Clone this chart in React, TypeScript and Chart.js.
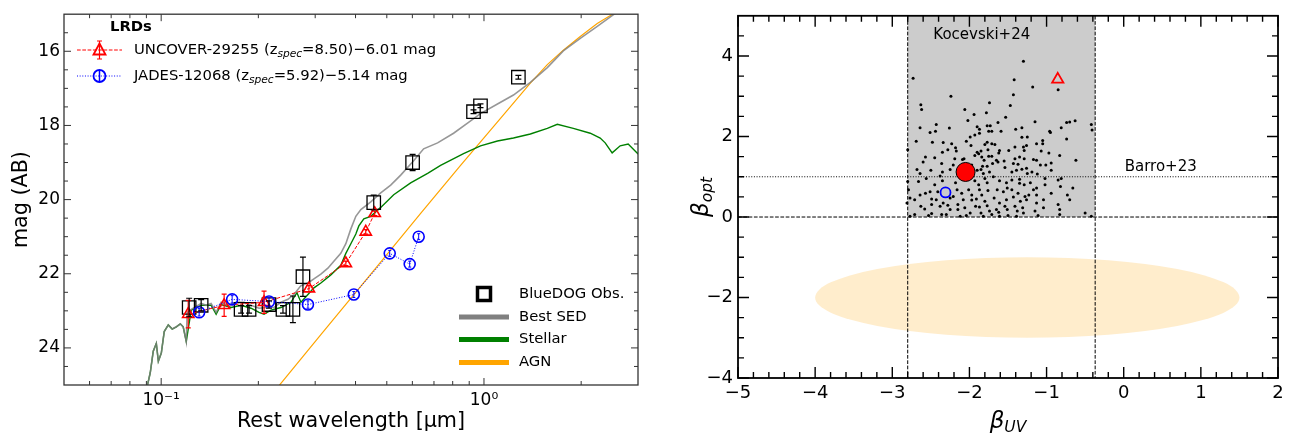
import React, { useEffect, useRef } from 'react';
import { Chart, registerables } from 'chart.js';

Chart.register(...registerables);

const FONT = "'DejaVu Sans', 'Liberation Sans', sans-serif";

// ---------------- Left panel: rest-frame SED ----------------
const BEST_SED_WAVE = [0.0899, 0.0925, 0.0945, 0.0966, 0.098, 0.1001, 0.1022, 0.1052, 0.1082, 0.1114, 0.1146, 0.117, 0.1196, 0.1204, 0.1239, 0.1284, 0.133, 0.1378, 0.1428, 0.148, 0.1534, 0.1612, 0.1706, 0.1806, 0.1898, 0.201, 0.2113, 0.2237, 0.235, 0.247, 0.2578, 0.271, 0.2849, 0.2973, 0.3124, 0.3284, 0.3427, 0.3601, 0.3733, 0.3869, 0.4009, 0.4155, 0.446, 0.4788, 0.5141, 0.5521, 0.6055, 0.6502, 0.7183, 0.805, 0.8892, 0.9754, 1.101, 1.234, 1.392, 1.571, 1.761, 1.987, 2.243, 2.513, 2.737];
const BEST_SED_MAG = [25.15, 24.67, 24.09, 23.88, 24.36, 24.14, 23.56, 23.38, 23.49, 23.43, 23.35, 23.43, 23.83, 23.04, 22.96, 22.88, 22.8, 22.85, 22.8, 23.04, 22.77, 22.85, 22.77, 22.77, 22.85, 22.93, 22.91, 22.91, 22.77, 22.69, 22.56, 22.32, 22.25, 22.14, 22.01, 21.85, 21.66, 21.45, 21.19, 20.79, 20.45, 20.27, 20.06, 19.82, 19.61, 19.34, 18.95, 18.63, 18.47, 18.21, 17.94, 17.68, 17.42, 17.18, 16.84, 16.44, 15.99, 15.65, 15.33, 15.02, 14.78];

const STELLAR_WAVE = [0.0899, 0.0925, 0.0945, 0.0966, 0.098, 0.1001, 0.1022, 0.1052, 0.1082, 0.1114, 0.1146, 0.117, 0.1196, 0.1239, 0.133, 0.1428, 0.148, 0.1534, 0.1647, 0.1768, 0.1898, 0.201, 0.2083, 0.2189, 0.235, 0.2523, 0.2634, 0.271, 0.2849, 0.2973, 0.3124, 0.3354, 0.3601, 0.3733, 0.3869, 0.4009, 0.4096, 0.4244, 0.446, 0.4788, 0.5252, 0.5927, 0.669, 0.7338, 0.8643, 0.9754, 1.101, 1.234, 1.392, 1.571, 1.687, 1.891, 2.134, 2.291, 2.374, 2.495, 2.642, 2.797, 2.981, 3.045];
const STELLAR_MAG = [25.15, 24.67, 24.09, 23.88, 24.36, 24.14, 23.56, 23.38, 23.49, 23.43, 23.35, 23.43, 23.83, 22.98, 22.85, 22.85, 23.09, 22.83, 22.91, 22.85, 22.93, 23.04, 23.09, 22.98, 22.91, 22.77, 22.51, 22.77, 22.56, 22.38, 22.25, 22.03, 21.77, 21.45, 21.19, 20.93, 20.71, 20.52, 20.45, 20.21, 19.87, 19.55, 19.29, 19.08, 18.76, 18.55, 18.42, 18.34, 18.23, 18.08, 17.97, 18.08, 18.21, 18.34, 18.47, 18.74, 18.55, 18.5, 18.74, 18.82];

const AGN_WAVE = [0.2189, 0.2317, 0.3124, 0.446, 0.6365, 0.8462, 1.125, 1.392, 1.571, 1.761, 1.987, 2.243, 2.513, 2.737];
const AGN_MAG = [25.28, 25.02, 23.64, 22.01, 20.37, 19.08, 17.81, 16.86, 16.36, 15.97, 15.6, 15.25, 14.99, 14.78];

const BLUEDOG_WAVE = [0.1221, 0.133, 0.1768, 0.1872, 0.2158, 0.2384, 0.2559, 0.2749, 0.4555, 0.601, 0.928, 0.9754, 1.278];
const BLUEDOG_MAG = [22.91, 22.85, 22.96, 22.96, 22.83, 22.96, 22.96, 22.08, 20.08, 19.0, 17.63, 17.47, 16.7];
const BLUEDOG_ERR = [0.25, 0.15, 0.1, 0.1, 0.1, 0.1, 0.36, 0.53, 0.2, 0.22, 0.05, 0.05, 0.05];

const UNCOVER_WAVE = [0.1213, 0.1567, 0.2083, 0.2869, 0.3733, 0.4303, 0.4587];
const UNCOVER_MAG = [23.09, 22.85, 22.77, 22.4, 21.72, 20.87, 20.37];
const UNCOVER_ERR = [0.37, 0.3, 0.3, 0.08, 0.06, 0.06, 0.06];

const JADES_WAVE = [0.1311, 0.1659, 0.2158, 0.2849, 0.3952, 0.5105, 0.5887, 0.6276];
const JADES_MAG = [23.04, 22.69, 22.75, 22.83, 22.56, 21.45, 21.74, 21.0];
const JADES_ERR = [0.1, 0.1, 0.1, 0.1, 0.08, 0.08, 0.08, 0.08];

const LEFT_X_MAJOR = [0.1, 1];
const LEFT_X_LABELS = ['10\u207B\u00B9', '10\u2070'];
const LEFT_X_MINOR = [0.06, 0.07, 0.08, 0.09, 0.2, 0.3, 0.4, 0.5, 0.6, 0.7, 0.8, 0.9, 2];
const LEFT_Y_MAJOR = [16, 18, 20, 22, 24];
const LEFT_Y_MINOR = [15.5, 16.5, 17, 17.5, 18.5, 19, 19.5, 20.5, 21, 21.5, 22.5, 23, 23.5, 24.5];

const LRD_TITLE = 'LRDs';
const UNCOVER_LABEL = [{ t: 'UNCOVER-29255 (z' }, { t: 'spec', sub: true }, { t: '=8.50)\u22126.01 mag' }];
const JADES_LABEL = [{ t: 'JADES-12068 (z' }, { t: 'spec', sub: true }, { t: '=5.92)\u22125.14 mag' }];
const SED_LEGEND = ['BlueDOG Obs.', 'Best SED', 'Stellar', 'AGN'];

// ---------------- Right panel: beta_UV vs beta_opt ----------------
const KOCEVSKI_24: number[][] = [
  [-1.30, 3.87], [-2.73, 3.45], [-1.42, 3.41], [-1.18, 3.23], [-0.85, 3.16], [-2.24, 3.00], [-1.43, 3.04],
  [-2.63, 2.79], [-2.62, 2.67], [-1.74, 2.84], [-1.47, 2.77], [-2.06, 2.67], [-1.78, 2.59], [-1.94, 2.55],
  [-1.53, 2.48], [-2.02, 2.40], [-1.63, 2.35], [-1.15, 2.37], [-0.63, 2.39], [-0.70, 2.36], [-0.74, 2.35],
  [-0.42, 2.30], [-2.43, 2.30], [-2.64, 2.22], [-2.26, 2.21], [-1.90, 2.24], [-1.77, 2.27], [-1.73, 2.27],
  [-1.87, 2.18], [-1.75, 2.13], [-1.71, 2.13], [-1.59, 2.13], [-1.40, 2.18], [-1.32, 2.22], [-0.96, 2.13],
  [-0.81, 2.22], [-2.51, 2.10], [-2.44, 2.13], [-1.93, 2.04], [-1.87, 2.08], [-1.25, 1.99], [-1.32, 1.98],
  [-0.95, 2.10], [-0.41, 2.16], [-2.69, 1.88], [-2.48, 1.86], [-2.34, 1.85], [-1.99, 1.99], [-2.04, 1.88],
  [-1.77, 1.86], [-1.71, 1.82], [-1.67, 1.80], [-1.80, 1.80], [-1.98, 1.78], [-1.13, 1.82], [-1.05, 1.90],
  [-1.05, 1.82], [-0.74, 1.94], [-2.80, 1.67], [-2.35, 1.61], [-2.23, 1.82], [-2.18, 1.72], [-2.28, 1.67],
  [-2.17, 1.64], [-1.90, 1.61], [-1.85, 1.64], [-1.88, 1.57], [-1.76, 1.67], [-1.61, 1.65], [-1.62, 1.59],
  [-1.49, 1.65], [-1.41, 1.74], [-1.30, 1.74], [-1.29, 1.65], [-1.26, 1.78], [-1.07, 1.64], [-0.97, 1.59],
  [-0.83, 1.53], [-0.62, 1.41], [-2.57, 1.49], [-2.45, 1.47], [-2.60, 1.37], [-2.19, 1.45], [-2.09, 1.43],
  [-2.07, 1.45], [-1.93, 1.53], [-1.84, 1.49], [-1.81, 1.41], [-1.75, 1.51], [-1.71, 1.51], [-1.65, 1.41],
  [-1.41, 1.45], [-1.35, 1.49], [-1.29, 1.45], [-1.17, 1.43], [-1.13, 1.41], [-1.01, 1.29], [-0.94, 1.34],
  [-2.36, 1.33], [-2.21, 1.29], [-1.97, 1.29], [-1.83, 1.26], [-1.77, 1.26], [-1.70, 1.33], [-1.63, 1.37],
  [-1.55, 1.39], [-1.43, 1.33], [-1.37, 1.31], [-1.26, 1.21], [-2.68, 1.18], [-2.64, 1.08], [-2.50, 1.16],
  [-2.35, 1.12], [-2.25, 1.18], [-1.90, 1.16], [-1.85, 1.18], [-1.82, 1.08], [-1.74, 1.12], [-1.54, 1.23],
  [-1.45, 1.12], [-1.39, 1.16], [-1.32, 1.19], [-1.25, 1.08], [-1.19, 1.12], [-1.12, 1.07], [-1.08, 1.29],
  [-1.02, 0.96], [-0.94, 1.16], [-0.85, 0.92], [-0.81, 0.96], [-2.80, 0.88], [-2.66, 0.88], [-2.56, 0.96],
  [-2.38, 1.02], [-2.35, 0.90], [-2.45, 0.80], [-2.18, 0.85], [-1.93, 0.90], [-1.88, 0.80], [-1.80, 0.96],
  [-1.77, 0.85], [-1.69, 1.00], [-1.61, 0.90], [-1.52, 0.85], [-1.45, 0.92], [-1.35, 0.94], [-1.35, 0.84],
  [-1.29, 0.80], [-1.21, 0.85], [-1.13, 0.72], [-1.02, 0.80], [-0.82, 0.76], [-0.66, 0.72], [-2.79, 0.68],
  [-2.64, 0.55], [-2.57, 0.59], [-2.51, 0.63], [-2.41, 0.63], [-2.16, 0.68], [-2.10, 0.59], [-2.01, 0.68],
  [-1.97, 0.55], [-1.87, 0.68], [-1.84, 0.55], [-1.76, 0.66], [-1.64, 0.68], [-1.56, 0.63], [-1.51, 0.72],
  [-1.45, 0.68], [-1.37, 0.59], [-1.28, 0.51], [-1.23, 0.55], [-1.17, 0.68], [-1.13, 0.55], [-1.04, 0.43],
  [-0.94, 0.59], [-0.73, 0.55], [-0.70, 0.43], [-2.77, 0.47], [-2.71, 0.43], [-2.49, 0.45], [-2.43, 0.43],
  [-2.34, 0.35], [-2.25, 0.47], [-2.21, 0.51], [-2.08, 0.43], [-1.97, 0.42], [-1.91, 0.45], [-1.80, 0.39],
  [-1.68, 0.47], [-1.61, 0.35], [-1.52, 0.43], [-1.43, 0.50], [-1.34, 0.39], [-1.26, 0.43], [-1.13, 0.35],
  [-2.81, 0.35], [-2.63, 0.27], [-2.49, 0.31], [-2.38, 0.27], [-2.28, 0.29], [-2.15, 0.31], [-2.06, 0.23],
  [-1.92, 0.27], [-1.87, 0.25], [-1.77, 0.28], [-1.65, 0.19], [-1.54, 0.27], [-1.41, 0.27], [-1.31, 0.23],
  [-1.15, 0.15], [-1.04, 0.23], [-0.85, 0.31], [-0.83, 0.19], [-2.58, 0.20], [-2.25, 0.19], [-2.15, 0.19],
  [-1.99, 0.10], [-1.85, 0.10], [-1.74, 0.15], [-1.62, 0.12], [-1.51, 0.19], [-1.38, 0.15], [-1.30, 0.10],
  [-0.83, 0.06], [-0.50, 0.10], [-2.71, 0.06], [-2.49, 0.09], [-2.36, 0.06], [-2.30, 0.06], [-2.12, 0.02],
  [-2.04, 0.04], [-1.82, 0.02], [-1.71, 0.06], [-1.61, 0.02], [-1.50, 0.04], [-1.39, 0.02], [-1.11, 0.04],
  [-0.42, 0.02], [-2.77, 0.02], [-2.53, 0.04]
];
const BLUEDOG_BETA = [[-2.05, 1.12]];
const JADES_BETA = [[-2.31, 0.61]];
const UNCOVER_BETA = [[-0.855, 3.42]];

const KOCEVSKI_BOX = { uvMin: -2.8, uvMax: -0.37, optMin: 0 };
const BARRO_LIMIT = 1;
const AGN_ELLIPSE = { cx: -1.25, cy: -2, rx: 2.75, ry: 1.0 };
const KOCEVSKI_LABEL = { text: 'Kocevski+24', x: -1.84, y: 4.52 };
const BARRO_LABEL = { text: 'Barro+23', x: 0.48, y: 1.25 };

const RIGHT_X_MAJOR = [-5, -4, -3, -2, -1, 0, 1, 2];
const RIGHT_X_MINOR = [-4.8, -4.6, -4.4, -4.2, -3.8, -3.6, -3.4, -3.2, -2.8, -2.6, -2.4, -2.2, -1.8, -1.6, -1.4, -1.2, -0.8, -0.6, -0.4, -0.2, 0.2, 0.4, 0.6, 0.8, 1.2, 1.4, 1.6, 1.8];
const RIGHT_Y_MAJOR = [-4, -2, 0, 2, 4];
const RIGHT_Y_MINOR = [-3.5, -3, -2.5, -1.5, -1, -0.5, 0.5, 1, 1.5, 2.5, 3, 3.5, 4.5];

// ---------------- helpers ----------------
const pairs = (xs: number[], ys: number[]) => xs.map((v, i) => ({ x: v, y: ys[i] }));
const pts = (arr: number[][]) => arr.map((p) => ({ x: p[0], y: p[1] }));
const minusFmt = (v: number) => (v < 0 ? '\u2212' + Math.abs(v) : String(v));

const frameTicks = {
  id: 'frameTicks',
  afterDraw(chart: any, _a: any, o: any) {
    const { ctx, chartArea: a, scales } = chart;
    const x = scales.x, y = scales.y;
    ctx.save();
    ctx.strokeStyle = o.color;
    ctx.lineWidth = o.tickWidth;
    ctx.beginPath();
    const addX = (vals: number[], len: number) => vals.forEach((v) => {
      const p = x.getPixelForValue(v);
      ctx.moveTo(p, a.bottom); ctx.lineTo(p, a.bottom - len);
      ctx.moveTo(p, a.top); ctx.lineTo(p, a.top + len);
    });
    const addY = (vals: number[], len: number) => vals.forEach((v) => {
      const p = y.getPixelForValue(v);
      ctx.moveTo(a.left, p); ctx.lineTo(a.left + len, p);
      ctx.moveTo(a.right, p); ctx.lineTo(a.right - len, p);
    });
    addX(o.xMajor, o.majorLen); addX(o.xMinor, o.minorLen);
    addY(o.yMajor, o.majorLen); addY(o.yMinor, o.minorLen);
    ctx.stroke();
    ctx.lineWidth = o.frameWidth;
    ctx.strokeRect(a.left, a.top, a.right - a.left, a.bottom - a.top);
    ctx.restore();
  },
};

const errorBars = {
  id: 'errorBars',
  afterDatasetsDraw(chart: any) {
    const { ctx, chartArea: a, scales: { x, y } } = chart;
    ctx.save();
    ctx.beginPath(); ctx.rect(a.left, a.top, a.right - a.left, a.bottom - a.top); ctx.clip();
    chart.data.datasets.forEach((ds: any) => {
      if (!ds.errorBars) return;
      ctx.strokeStyle = ds.errorColor;
      ctx.lineWidth = ds.errorWidth || 1;
      ctx.beginPath();
      ds.data.forEach((p: any, j: number) => {
        const e = ds.errorBars[j];
        const px = x.getPixelForValue(p.x);
        const y1 = y.getPixelForValue(p.y - e);
        const y2 = y.getPixelForValue(p.y + e);
        const c = ds.capSize;
        ctx.moveTo(px, y1); ctx.lineTo(px, y2);
        ctx.moveTo(px - c, y1); ctx.lineTo(px + c, y1);
        ctx.moveTo(px - c, y2); ctx.lineTo(px + c, y2);
      });
      ctx.stroke();
    });
    ctx.restore();
  },
};

function drawRich(ctx: any, x: number, y: number, parts: any[], size: number) {
  let cx = x;
  parts.forEach((p) => {
    ctx.font = p.sub ? `italic ${size * 0.72}px ${FONT}` : `${size}px ${FONT}`;
    ctx.fillText(p.t, cx, p.sub ? y + size * 0.3 : y);
    cx += ctx.measureText(p.t).width;
  });
}

const leftLegend = {
  id: 'leftLegend',
  afterDraw(chart: any) {
    const ctx = chart.ctx;
    ctx.save();
    ctx.textBaseline = 'middle';
    ctx.textAlign = 'left';
    ctx.fillStyle = '#000';
    ctx.font = `bold 14.8px ${FONT}`;
    ctx.fillText(LRD_TITLE, 110, 27);

    // UNCOVER row
    ctx.strokeStyle = 'red';
    ctx.lineWidth = 1;
    ctx.setLineDash([3.7, 1.6]);
    ctx.beginPath(); ctx.moveTo(77, 50); ctx.lineTo(122, 50); ctx.stroke();
    ctx.setLineDash([]);
    ctx.lineWidth = 1.2;
    ctx.beginPath();
    ctx.moveTo(99.5, 41); ctx.lineTo(99.5, 59);
    ctx.moveTo(97, 41); ctx.lineTo(102, 41);
    ctx.moveTo(97, 59); ctx.lineTo(102, 59);
    ctx.stroke();
    ctx.lineWidth = 1.8;
    ctx.beginPath();
    ctx.moveTo(99.5, 43.5); ctx.lineTo(105.5, 54.5); ctx.lineTo(93.5, 54.5); ctx.closePath();
    ctx.stroke();
    ctx.fillStyle = '#000';
    drawRich(ctx, 134, 50, UNCOVER_LABEL, 14.8);

    // JADES row
    ctx.strokeStyle = 'blue';
    ctx.lineWidth = 1;
    ctx.setLineDash([1, 1.65]);
    ctx.beginPath(); ctx.moveTo(77, 76); ctx.lineTo(122, 76); ctx.stroke();
    ctx.setLineDash([]);
    ctx.lineWidth = 1.8;
    ctx.beginPath(); ctx.arc(99.5, 76, 6, 0, Math.PI * 2); ctx.stroke();
    ctx.lineWidth = 1.5;
    ctx.beginPath(); ctx.moveTo(99.5, 70); ctx.lineTo(99.5, 82); ctx.stroke();
    drawRich(ctx, 134, 76, JADES_LABEL, 14.8);

    // SED legend
    ctx.strokeStyle = '#000';
    ctx.lineWidth = 3.5;
    ctx.strokeRect(477.5, 287.5, 13, 13);
    const lines = [['#808080', 317], ['#008000', 339.5], ['#FFA500', 362.5]];
    lines.forEach((l: any) => {
      ctx.strokeStyle = l[0];
      ctx.lineWidth = 5;
      ctx.beginPath(); ctx.moveTo(459, l[1]); ctx.lineTo(509, l[1]); ctx.stroke();
    });
    ctx.font = `14.8px ${FONT}`;
    ctx.fillStyle = '#000';
    const ys = [294, 317, 339.5, 362.5];
    SED_LEGEND.forEach((t, i) => ctx.fillText(t, 519, ys[i]));
    ctx.restore();
  },
};

function drawBetaLabel(ctx: any, cx: number, cy: number, sub: string, rot: number) {
  ctx.save();
  ctx.translate(cx, cy);
  ctx.rotate(rot);
  ctx.fillStyle = '#000';
  ctx.textBaseline = 'alphabetic';
  ctx.textAlign = 'left';
  ctx.font = `italic 23px ${FONT}`;
  const w1 = ctx.measureText('\u03B2').width;
  ctx.font = `italic 15.5px ${FONT}`;
  const w2 = ctx.measureText(sub).width;
  const start = -(w1 + w2) / 2;
  ctx.font = `italic 23px ${FONT}`;
  ctx.fillText('\u03B2', start, 6.5);
  ctx.font = `italic 15.5px ${FONT}`;
  ctx.fillText(sub, start + w1, 11);
  ctx.restore();
}

const rightBackground = {
  id: 'rightBackground',
  beforeDatasetsDraw(chart: any) {
    const { ctx, chartArea: a, scales: { x, y } } = chart;
    ctx.save();
    ctx.beginPath(); ctx.rect(a.left, a.top, a.right - a.left, a.bottom - a.top); ctx.clip();
    // AGN ellipse
    const ecx = x.getPixelForValue(AGN_ELLIPSE.cx);
    const ecy = y.getPixelForValue(AGN_ELLIPSE.cy);
    const erx = x.getPixelForValue(AGN_ELLIPSE.cx + AGN_ELLIPSE.rx) - ecx;
    const ery = ecy - y.getPixelForValue(AGN_ELLIPSE.cy + AGN_ELLIPSE.ry);
    ctx.fillStyle = 'rgba(255,165,0,0.2)';
    ctx.beginPath(); ctx.ellipse(ecx, ecy, erx, ery, 0, 0, Math.PI * 2); ctx.fill();
    // Kocevski box
    const bx1 = x.getPixelForValue(KOCEVSKI_BOX.uvMin);
    const bx2 = x.getPixelForValue(KOCEVSKI_BOX.uvMax);
    const by = y.getPixelForValue(KOCEVSKI_BOX.optMin);
    ctx.fillStyle = '#cccccc';
    ctx.fillRect(bx1, a.top, bx2 - bx1, by - a.top);
    // lines
    ctx.strokeStyle = '#000';
    ctx.lineWidth = 1;
    ctx.setLineDash([3.7, 1.6]);
    ctx.beginPath();
    ctx.moveTo(bx1, a.top); ctx.lineTo(bx1, a.bottom);
    ctx.moveTo(bx2, a.top); ctx.lineTo(bx2, a.bottom);
    ctx.moveTo(a.left, by); ctx.lineTo(a.right, by);
    ctx.stroke();
    ctx.setLineDash([1, 1.65]);
    const bl = y.getPixelForValue(BARRO_LIMIT);
    ctx.beginPath(); ctx.moveTo(a.left, bl); ctx.lineTo(a.right, bl); ctx.stroke();
    ctx.setLineDash([]);
    ctx.fillStyle = '#000';
    ctx.font = `15px ${FONT}`;
    ctx.textAlign = 'center';
    ctx.textBaseline = 'middle';
    [KOCEVSKI_LABEL, BARRO_LABEL].forEach((l) => ctx.fillText(l.text, x.getPixelForValue(l.x), y.getPixelForValue(l.y)));
    ctx.restore();
  },
  afterDraw(chart: any) {
    const { ctx, chartArea: a } = chart;
    drawBetaLabel(ctx, (a.left + a.right) / 2, 421, 'UV', 0);
    drawBetaLabel(ctx, 51, (a.top + a.bottom) / 2, 'opt', -Math.PI / 2);
  },
};

function leftConfig(): any {
  const tickFont = { family: FONT, size: 17 };
  return {
    type: 'scatter',
    data: {
      datasets: [
        {
          label: 'JADES-12068', data: pairs(JADES_WAVE, JADES_MAG), showLine: true,
          borderColor: 'blue', borderWidth: 1, borderDash: [1, 1.65],
          pointStyle: 'circle', pointRadius: 5.5, pointBorderWidth: 1.6,
          pointBorderColor: 'blue', pointBackgroundColor: 'rgba(0,0,0,0)', order: 1,
          errorBars: JADES_ERR, errorColor: 'blue', capSize: 1.5, errorWidth: 1,
        },
        {
          label: 'UNCOVER-29255', data: pairs(UNCOVER_WAVE, UNCOVER_MAG), showLine: true,
          borderColor: 'red', borderWidth: 1, borderDash: [3.7, 1.6],
          pointStyle: 'triangle', pointRadius: 6.5, pointBorderWidth: 1.6,
          pointBorderColor: 'red', pointBackgroundColor: 'rgba(0,0,0,0)', order: 2,
          errorBars: UNCOVER_ERR, errorColor: 'red', capSize: 2.5, errorWidth: 1.2,
        },
        {
          label: 'BlueDOG Obs.', data: pairs(BLUEDOG_WAVE, BLUEDOG_MAG), showLine: false,
          pointStyle: 'rect', pointRadius: 9.5, pointBorderWidth: 1.3,
          pointBorderColor: '#000', pointBackgroundColor: 'rgba(0,0,0,0)', order: 3,
          errorBars: BLUEDOG_ERR, errorColor: '#000', capSize: 3, errorWidth: 1.2,
        },
        {
          label: 'Best SED', data: pairs(BEST_SED_WAVE, BEST_SED_MAG), showLine: true,
          borderColor: 'rgba(128,128,128,0.82)', borderWidth: 1.6, pointRadius: 0, order: 4,
        },
        {
          label: 'Stellar', data: pairs(STELLAR_WAVE, STELLAR_MAG), showLine: true,
          borderColor: '#008000', borderWidth: 1.4, pointRadius: 0, order: 5,
        },
        {
          label: 'AGN', data: pairs(AGN_WAVE, AGN_MAG), showLine: true,
          borderColor: '#FFA500', borderWidth: 1.2, pointRadius: 0, order: 6,
        },
      ],
    },
    options: {
      responsive: false,
      animation: false,
      devicePixelRatio: 1,
      events: [],
      layout: { padding: { left: 0, right: 12, top: 5, bottom: 0 } },
      plugins: {
        legend: { display: false },
        tooltip: { enabled: false },
        frameTicks: {
          color: '#333', tickWidth: 1, frameWidth: 1.3, majorLen: 7, minorLen: 4,
          xMajor: LEFT_X_MAJOR, xMinor: LEFT_X_MINOR, yMajor: LEFT_Y_MAJOR, yMinor: LEFT_Y_MINOR,
        },
      },
      scales: {
        x: {
          type: 'logarithmic', min: 0.05, max: 3.0,
          afterBuildTicks: (s: any) => { s.ticks = LEFT_X_MAJOR.map((v) => ({ value: v })); },
          afterFit: (s: any) => { s.height = 51; },
          ticks: {
            autoSkip: false, maxRotation: 0, padding: 5, color: '#000', font: tickFont,
            callback: (v: number) => { const i = LEFT_X_MAJOR.indexOf(v); return i >= 0 ? LEFT_X_LABELS[i] : ''; },
          },
          grid: { display: false, drawTicks: false },
          border: { display: false },
          title: { display: true, text: 'Rest wavelength [\u03BCm]', color: '#000', font: { family: FONT, size: 20.7 }, padding: { top: 0, bottom: 1.6 } },
        },
        y: {
          type: 'linear', min: 15, max: 25, reverse: true,
          afterBuildTicks: (s: any) => { s.ticks = LEFT_Y_MAJOR.map((v) => ({ value: v })); },
          afterFit: (s: any) => { s.width = 64; },
          ticks: { autoSkip: false, padding: 4, color: '#000', font: tickFont, callback: (v: number) => String(v) },
          grid: { display: false, drawTicks: false },
          border: { display: false },
          title: { display: true, text: 'mag (AB)', color: '#000', font: { family: FONT, size: 20.7 }, padding: { top: 9.6, bottom: 0 } },
        },
      },
    },
    plugins: [frameTicks, errorBars, leftLegend],
  };
}

function rightConfig(): any {
  const tickFont = { family: FONT, size: 18 };
  return {
    type: 'scatter',
    data: {
      datasets: [
        {
          label: 'UNCOVER-29255', data: pts(UNCOVER_BETA), pointStyle: 'triangle', pointRadius: 6.5,
          pointBorderWidth: 1.8, pointBorderColor: 'red', pointBackgroundColor: 'rgba(0,0,0,0)', order: 1,
        },
        {
          label: 'JADES-12068', data: pts(JADES_BETA), pointStyle: 'circle', pointRadius: 5,
          pointBorderWidth: 1.8, pointBorderColor: 'blue', pointBackgroundColor: 'rgba(0,0,0,0)', order: 2,
        },
        {
          label: 'BlueDOG', data: pts(BLUEDOG_BETA), pointStyle: 'circle', pointRadius: 9.5,
          pointBorderWidth: 1, pointBorderColor: '#000', pointBackgroundColor: 'red', order: 3,
        },
        {
          label: 'Kocevski+24', data: pts(KOCEVSKI_24), pointStyle: 'circle', pointRadius: 1.5,
          pointBorderWidth: 0, pointBackgroundColor: '#000', order: 4,
        },
      ],
    },
    options: {
      responsive: false,
      animation: false,
      devicePixelRatio: 1,
      events: [],
      layout: { padding: { left: 0, right: 11, top: 10, bottom: 0 } },
      plugins: {
        legend: { display: false },
        tooltip: { enabled: false },
        frameTicks: {
          color: '#000', tickWidth: 1.4, frameWidth: 1.8, majorLen: 11, minorLen: 6,
          xMajor: RIGHT_X_MAJOR, xMinor: RIGHT_X_MINOR, yMajor: RIGHT_Y_MAJOR, yMinor: RIGHT_Y_MINOR,
        },
      },
      scales: {
        x: {
          type: 'linear', min: -5, max: 2,
          afterBuildTicks: (s: any) => { s.ticks = RIGHT_X_MAJOR.map((v) => ({ value: v })); },
          afterFit: (s: any) => { s.height = 58; },
          ticks: { autoSkip: false, maxRotation: 0, padding: 5, color: '#000', font: tickFont, callback: minusFmt },
          grid: { display: false, drawTicks: false },
          border: { display: false },
        },
        y: {
          type: 'linear', min: -4, max: 5,
          afterBuildTicks: (s: any) => { s.ticks = RIGHT_Y_MAJOR.map((v) => ({ value: v })); },
          afterFit: (s: any) => { s.width = 88; },
          ticks: { autoSkip: false, padding: 5, color: '#000', font: tickFont, callback: minusFmt },
          grid: { display: false, drawTicks: false },
          border: { display: false },
        },
      },
    },
    plugins: [rightBackground, frameTicks],
  };
}

export default function App() {
  const leftRef = useRef<HTMLCanvasElement>(null);
  const rightRef = useRef<HTMLCanvasElement>(null);
  useEffect(() => {
    Chart.defaults.font.family = FONT;
    const left = new Chart(leftRef.current as HTMLCanvasElement, leftConfig());
    const right = new Chart(rightRef.current as HTMLCanvasElement, rightConfig());
    return () => { left.destroy(); right.destroy(); };
  }, []);
  return (
    <div style={{ position: 'absolute', left: 0, top: 0, width: 1289, height: 436, background: '#fff' }}>
      <canvas ref={leftRef} width={650} height={436} style={{ position: 'absolute', left: 0, top: 0, width: 650, height: 436 }} />
      <canvas ref={rightRef} width={639} height={436} style={{ position: 'absolute', left: 650, top: 0, width: 639, height: 436 }} />
    </div>
  );
}
